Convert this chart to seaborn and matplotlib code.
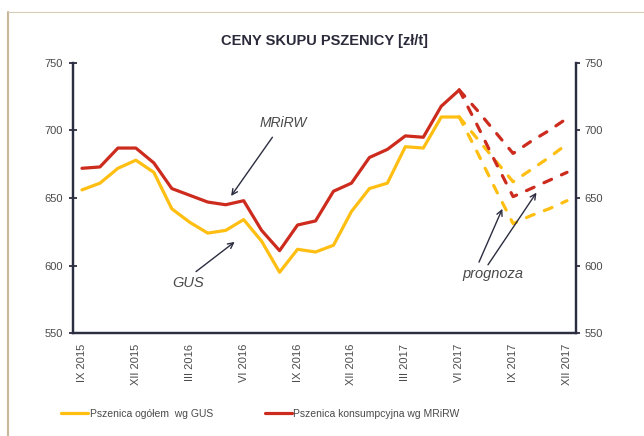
#%%
import numpy as np
import pandas as pd
import seaborn as sns
import matplotlib.pyplot as plt
from matplotlib.lines import Line2D

#%% data (zl/t)
months = ['IX 2015', 'X 2015', 'XI 2015', 'XII 2015', 'I 2016', 'II 2016', 'III 2016',
          'IV 2016', 'V 2016', 'VI 2016', 'VII 2016', 'VIII 2016', 'IX 2016', 'X 2016',
          'XI 2016', 'XII 2016', 'I 2017', 'II 2017', 'III 2017', 'IV 2017', 'V 2017',
          'VI 2017', 'VII 2017', 'VIII 2017', 'IX 2017', 'X 2017', 'XI 2017', 'XII 2017']
tick_labels = ['IX 2015', 'XII 2015', 'III 2016', 'VI 2016', 'IX 2016', 'XII 2016',
               'III 2017', 'VI 2017', 'IX 2017', 'XII 2017']

gus = [656, 661, 672, 678, 669, 642, 632, 624, 626, 634, 618, 595, 612, 610,
       615, 640, 657, 661, 688, 687, 710, 710]
mrirw = [672, 673, 687, 687, 676, 657, 652, 647, 645, 648, 626, 611, 630, 633,
         655, 661, 680, 686, 696, 695, 718, 730]

# forecasts VI 2017 .. XII 2017, two variants per series
gus_prog_hi = [710, 694, 678, 662, 671, 680, 690]
gus_prog_lo = [710, 684, 657, 631, 637, 642, 648]
mrirw_prog_hi = [730, 715, 699, 683, 692, 700, 709]
mrirw_prog_lo = [730, 704, 677, 651, 657, 663, 669]

yellow = '#FFBE12'
red = '#CC2B1D'
axis_col = '#2B2D40'
text_col = '#4A4A4A'

#%% build frames
df = pd.DataFrame({'x': np.arange(len(gus)), 'gus': gus, 'mrirw': mrirw})
px = np.arange(21, 21 + len(gus_prog_hi))
prog = pd.DataFrame({'x': px, 'gus_hi': gus_prog_hi, 'gus_lo': gus_prog_lo,
                     'mrirw_hi': mrirw_prog_hi, 'mrirw_lo': mrirw_prog_lo})

#%% plot
sns.set_style('white')
plt.rcParams['font.family'] = ['Liberation Sans', 'DejaVu Sans']

fig = plt.figure(figsize=(6.44, 4.36), dpi=100)
ax = fig.add_axes([73 / 644, 1 - 333 / 436, (576 - 73) / 644, (333 - 63) / 436])

dash = (0, (2.6, 3.4))
for col, c in [('gus_hi', yellow), ('gus_lo', yellow), ('mrirw_hi', red), ('mrirw_lo', red)]:
    sns.lineplot(data=prog, x='x', y=col, ax=ax, color=c, lw=2.3, linestyle=dash,
                 dash_capstyle='round', legend=False)
sns.lineplot(data=df, x='x', y='gus', ax=ax, color=yellow, lw=2.3, legend=False)
sns.lineplot(data=df, x='x', y='mrirw', ax=ax, color=red, lw=2.3, legend=False)

ax.set_xlim(-0.5, len(months) - 0.5)
ax.set_ylim(550, 750)
ax.set_xlabel('')
ax.set_ylabel('')

ax.set_xticks(np.arange(0, len(months), 3))
ax.set_xticklabels(tick_labels, rotation=90, fontsize=8, color=text_col)
ax.set_xticks(np.arange(-0.5, len(months)), minor=True)
ax.tick_params(axis='x', which='major', length=0, pad=8)
ax.tick_params(axis='x', which='minor', direction='inout', length=6, width=1.3, color=axis_col)

ax.set_yticks([550, 600, 650, 700, 750])
ax.tick_params(axis='y', direction='inout', length=6, width=1.3, color=axis_col,
               labelsize=8, labelcolor=text_col, pad=4)

ax2 = ax.twinx()
ax2.set_ylim(550, 750)
ax2.set_yticks([550, 600, 650, 700, 750])
ax2.tick_params(axis='y', direction='out', length=3, width=1.3, color=axis_col,
                labelsize=8, labelcolor=text_col, pad=3)

for a in (ax, ax2):
    a.spines['top'].set_visible(False)
    for s in ('left', 'right', 'bottom'):
        a.spines[s].set_color(axis_col)
        a.spines[s].set_linewidth(1.6)

ax.set_title('CENY SKUPU PSZENICY [zł/t]', fontsize=10.5, fontweight='bold',
             color='#2A2A3A', pad=13)

# annotations
arrow = dict(arrowstyle='->', color=axis_col, lw=1.0, shrinkA=0, shrinkB=0)
ax.text(11.2, 705.5, 'MRiRW', style='italic', fontsize=10, color=text_col, ha='center', va='center')
ax.annotate('', xy=(8.3, 651.5), xytext=(10.6, 695), arrowprops=arrow)
ax.text(5.9, 587, 'GUS', style='italic', fontsize=10.5, color=text_col, ha='center', va='center')
ax.annotate('', xy=(8.5, 617.5), xytext=(6.35, 595.5), arrowprops=arrow)
ax.text(22.85, 593.5, 'prognoza', style='italic', fontsize=10.5, color=text_col, ha='center', va='center')
ax.annotate('', xy=(23.4, 642), xytext=(22.1, 602.5), arrowprops=arrow)
ax.annotate('', xy=(25.3, 654), xytext=(22.6, 600.5), arrowprops=arrow)

# legend
handles = [Line2D([], [], color=yellow, lw=2.3), Line2D([], [], color=red, lw=2.3)]
fig.legend(handles, ['Pszenica ogółem  wg GUS', 'Pszenica konsumpcyjna wg MRiRW'],
           loc='center left', bbox_to_anchor=(52 / 644, 1 - 414 / 436), ncol=2,
           frameon=False, fontsize=7.5, handlelength=2.6, handletextpad=0.1,
           columnspacing=5.0, labelcolor=text_col)

# frame of the source document
fig.add_artist(Line2D([8 / 644, 8 / 644], [0, 1 - 12 / 436], color='#C9B79A', lw=1.5))
fig.add_artist(Line2D([8 / 644, 1], [1 - 12 / 436, 1 - 12 / 436], color='#D8CCB8', lw=0.8))

fig.savefig('out.png', dpi=100)
